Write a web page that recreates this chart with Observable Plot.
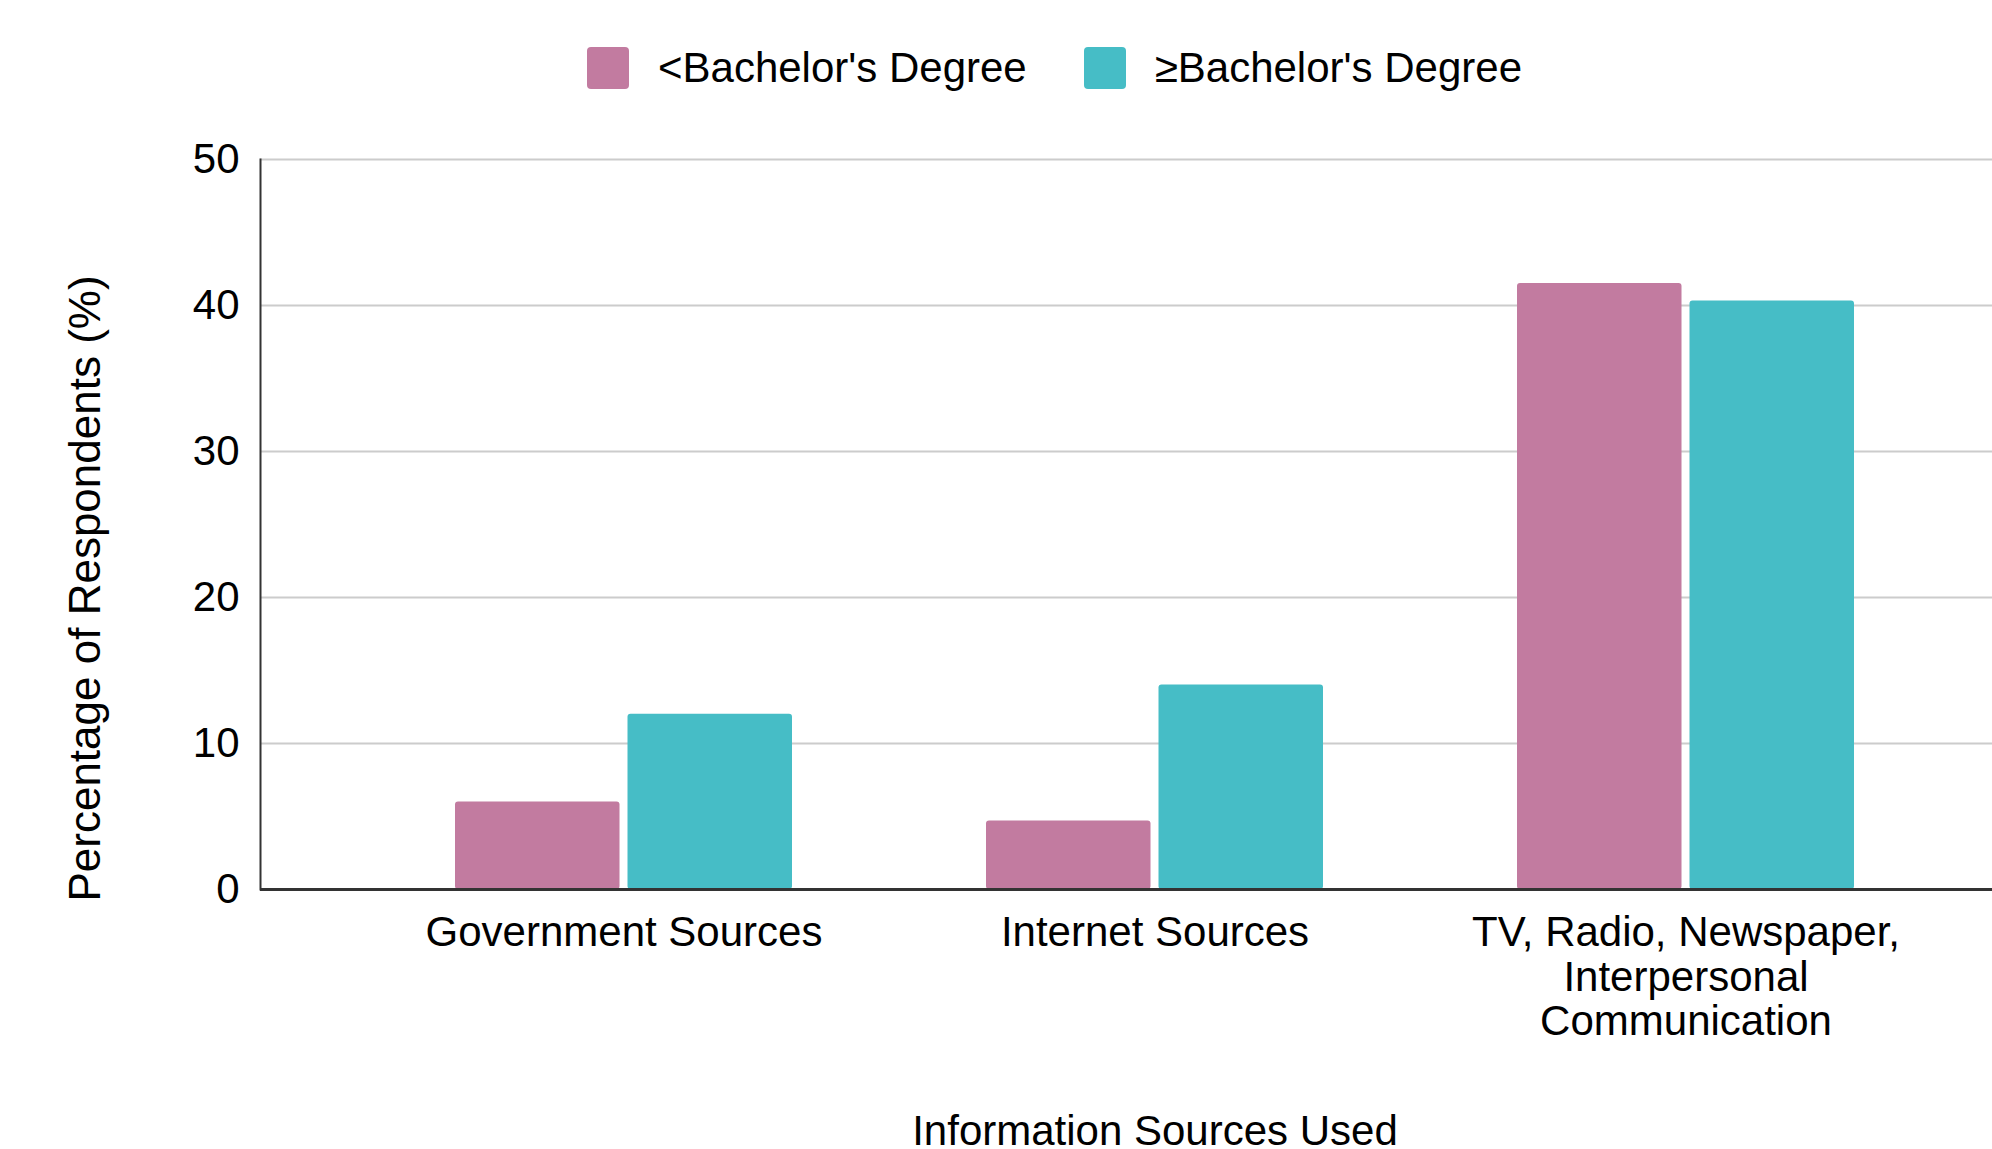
<!DOCTYPE html>
<html>
<head>
<meta charset="utf-8">
<script src="https://cdn.jsdelivr.net/npm/d3@7"></script>
<script src="https://cdn.jsdelivr.net/npm/@observablehq/plot@0.6"></script>
<style>
  html, body { margin: 0; padding: 0; background: #fff; overflow: hidden; width: 1992px; height: 1149px; }
  body { font-family: "Liberation Sans", Arial, Helvetica, sans-serif; color: #000; }
  #legend { box-sizing: border-box; height: 110px; padding-top: 47px; padding-left: 587px; display: flex; align-items: flex-start; }
  .item { display: flex; align-items: center; height: 42px; margin-right: 57px; }
  .swatch { width: 42px; height: 42px; border-radius: 4px; margin-right: 29px; flex: none; }
  .label { font-size: 42px; line-height: 42px; white-space: nowrap; }
  #chart svg { display: block; }
  #caption { box-sizing: border-box; width: 1992px; height: 36px; line-height: 36px; padding-left: 318px; text-align: center; font-size: 42px; white-space: nowrap; }
</style>
</head>
<body>
<div id="legend"></div>
<div id="chart"></div>
<div id="caption"></div>
<script>
const categories = ["Government Sources", "Internet Sources", "TV, Radio, Newspaper, Interpersonal Communication"];
const categoryLines = ["Government Sources", "Internet Sources", "TV, Radio, Newspaper,\nInterpersonal\nCommunication"];
const series = ["<Bachelor's Degree", "≥Bachelor's Degree"];
const lessThanBachelor = [6.0, 4.7, 41.5];
const bachelorOrMore = [12.0, 14.0, 40.3];
const colors = ["#C27BA0", "#46BDC6"];
const yTicks = [0, 10, 20, 30, 40, 50];
const yLabel = "Percentage of Respondents (%)";
const xLabel = "Information Sources Used";

const rowsA = categories.map((c, i) => ({category: c, series: series[0], value: lessThanBachelor[i]}));
const rowsB = categories.map((c, i) => ({category: c, series: series[1], value: bachelorOrMore[i]}));

// legend
const legend = document.getElementById("legend");
series.forEach((s, i) => {
  const item = document.createElement("div");
  item.className = "item";
  const sw = document.createElement("div");
  sw.className = "swatch";
  sw.style.background = colors[i];
  const lb = document.createElement("div");
  lb.className = "label";
  lb.textContent = s;
  item.appendChild(sw);
  item.appendChild(lb);
  legend.appendChild(item);
});
document.getElementById("caption").textContent = xLabel;

const font = '"Liberation Sans", Arial, Helvetica, sans-serif';
const half = 172.5;

const chart = Plot.plot({
  width: 1992,
  height: 1003,
  marginLeft: 260,
  marginRight: 0,
  marginTop: 49,
  marginBottom: 224,
  style: {fontFamily: font, fontSize: "42px", color: "#000", background: "#fff", overflow: "hidden"},
  x: {domain: categories, range: [260, 2050], padding: 0.365, label: null, axis: null},
  y: {domain: [0, 50], label: null, axis: null},
  marks: [
    Plot.ruleY(yTicks.filter(t => t > 0), {stroke: "#cccccc", strokeWidth: 2}),
    Plot.barY(rowsA, {x: "category", y: "value", fill: colors[0], insetRight: half, rx: 3}),
    Plot.barY(rowsB, {x: "category", y: "value", fill: colors[1], insetLeft: half, rx: 3}),
    Plot.ruleY([0], {stroke: "#333333", strokeWidth: 3}),
    Plot.frame({anchor: "left", stroke: "#333333", strokeWidth: 2}),
    Plot.axisY(yTicks, {tickSize: 0, tickPadding: 21, label: null, fontSize: 42, fill: "#000"}),
    Plot.axisX({tickSize: 0, tickPadding: 25, label: null, fontSize: 42, lineHeight: 1.06, fill: "#000",
      tickFormat: c => categoryLines[categories.indexOf(c)]}),
    Plot.text([yLabel], {text: d => d, frameAnchor: "left", textAnchor: "middle", lineAnchor: "middle",
      rotate: -90, dx: -175, dy: 64, fontSize: 44, fill: "#000"})
  ]
});
document.getElementById("chart").appendChild(chart);
</script>
</body>
</html>
